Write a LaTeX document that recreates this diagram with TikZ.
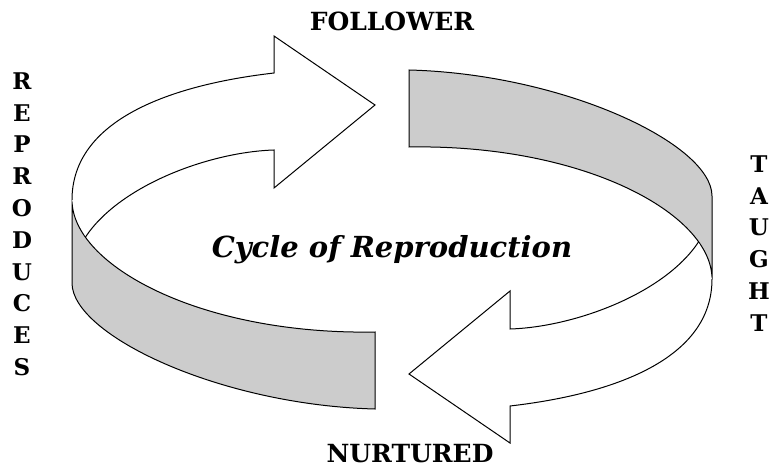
\documentclass[tikz,border=0pt]{standalone}
\usepackage{fontspec}
\setmainfont{DejaVu Serif}

\begin{document}
\begin{tikzpicture}[x=1pt, y=-1pt, line width=1pt,
                    band/.style={fill=gray!40, draw=black},
                    ribbon/.style={fill=white, draw=black},
                    word/.style={font=\bfseries\fontsize{25}{25}\selectfont, inner sep=0pt},
                    column/.style={word, align=center, font=\bfseries\fontsize{23}{31.8}\selectfont}]
                            \useasboundingbox (0,0) rectangle (774,476);

                            \foreach \turn in {0,180}{
                              \begin{scope}[rotate around={\turn:(392,239.5)}]
                                \path[band] (72,200) .. controls (72,265) and (200,335) .. (375,332)
                                  -- (375,409) .. controls (220,405) and (72,335) .. (72,283) -- cycle;
                                \path[ribbon] (72,200) .. controls (72,120) and (170,85) .. (274,73)
                                  -- (274,36) -- (375,105) -- (274,188) -- (274,150)
                                  .. controls (210,152) and (120,185) .. (85.5,237);
                              \end{scope}
                            }

                            \node[word] (follower) at (392,21) {FOLLOWER};
                            \node[word] (nurtured) at (410,454) {NURTURED};
                            \node[font=\bfseries\itshape\fontsize{29}{29}\selectfont, inner sep=0pt, anchor=base] (title) at (392,257) {Cycle of Reproduction};
                            \node[column, anchor=north] (reproduces) at (22,72) {R\\E\\P\\R\\O\\D\\U\\C\\E\\S};
                            \node[column, anchor=north] (taught) at (759,155) {T\\A\\U\\G\\H\\T};
                        \end{tikzpicture}
\end{document}
